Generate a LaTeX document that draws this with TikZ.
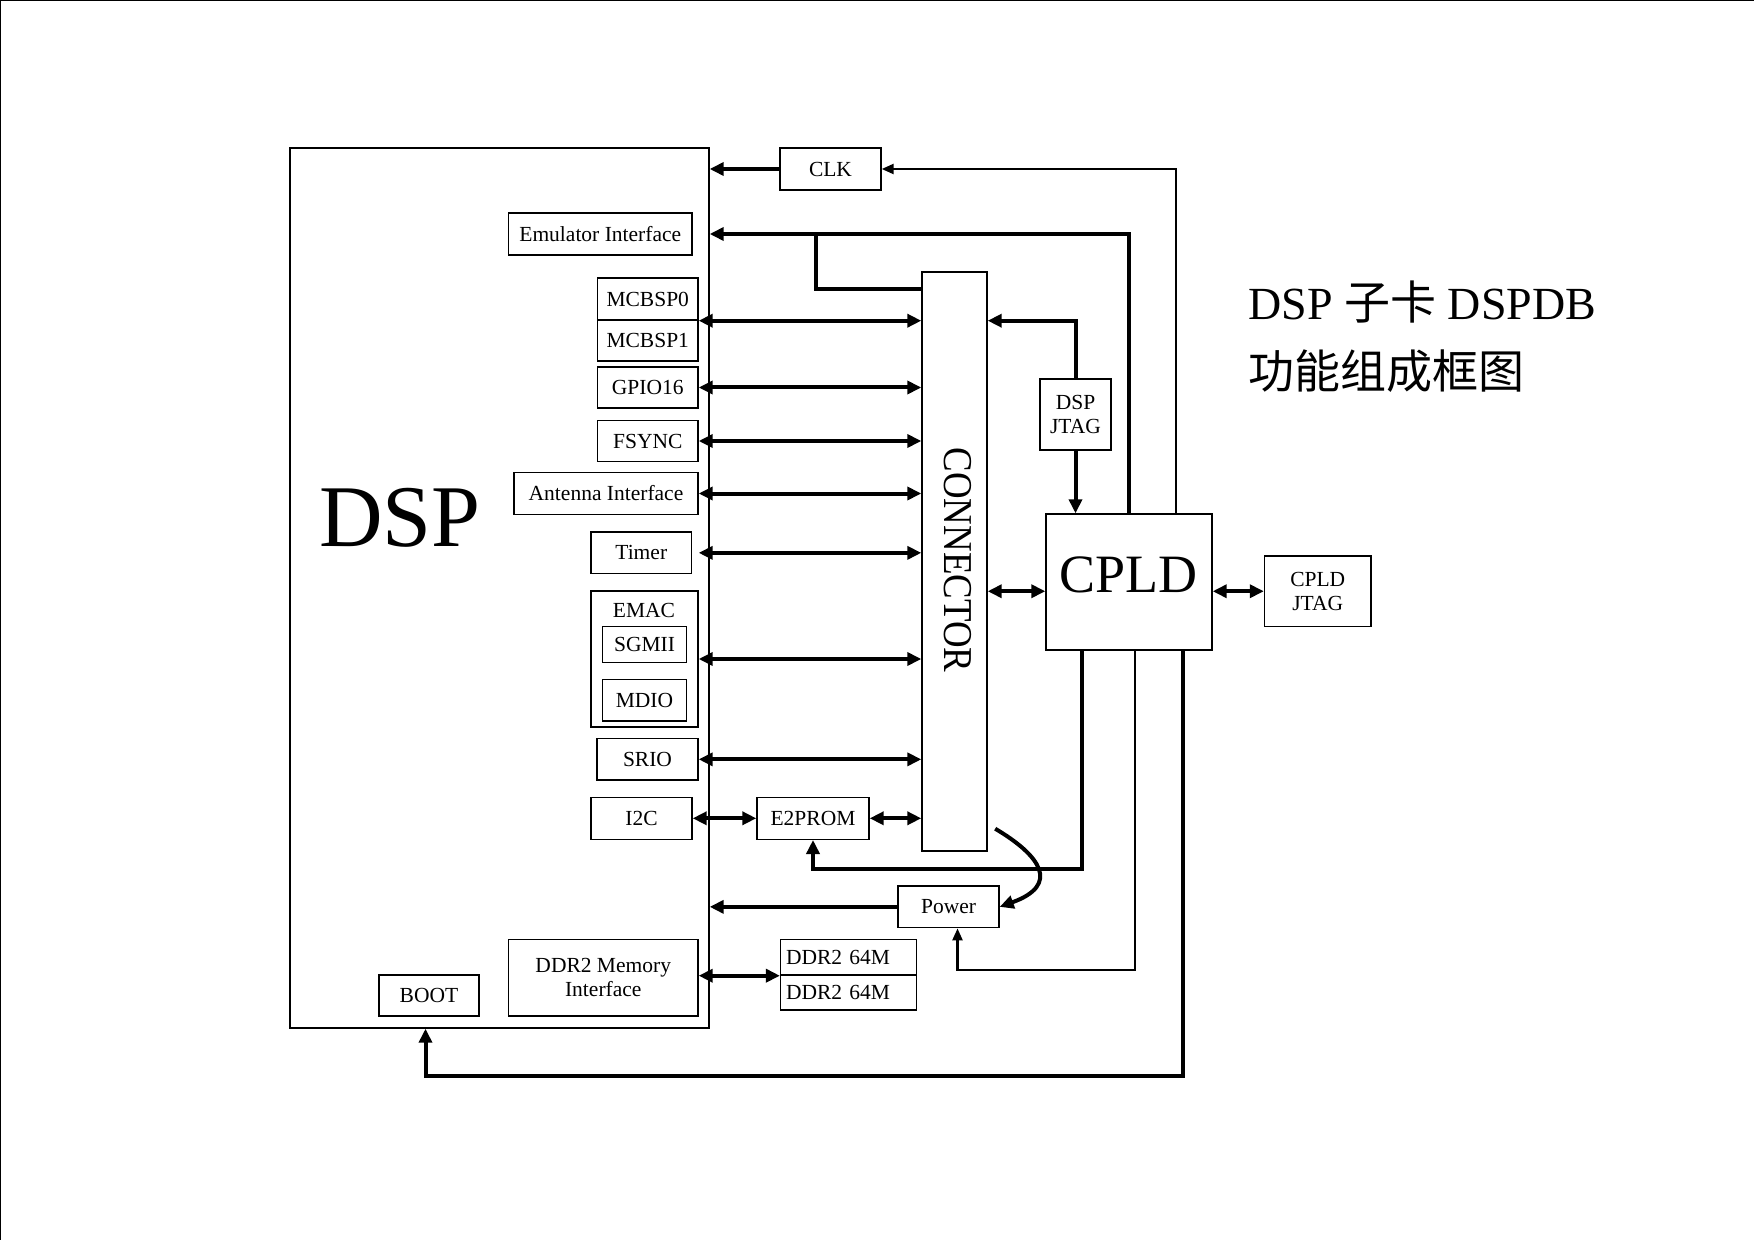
\documentclass[tikz,border=0pt]{standalone}
\usepackage{fontspec}
\setmainfont{Liberation Serif}
\newfontfamily\cjk{Noto Sans CJK SC}
\usetikzlibrary{arrows.meta}
\newcommand\fsmall{\fontsize{10.75pt}{12pt}\selectfont}
\tikzset{
  box/.style={draw, line width=0.7pt, inner sep=0pt, font=\fsmall, align=center},
  thk/.style={line width=2pt},
  thn/.style={line width=1.2pt},
  bigtip/.tip={Triangle[length=7pt,width=6.5pt]},
  smalltip/.tip={Triangle[length=6pt,width=5pt]},
  lbl/.style={inner sep=0pt}
}
\begin{document}
\begin{tikzpicture}[x=0.5pt,y=-0.5pt]
\useasboundingbox (0,0) rectangle (1754,1240);
\draw[line width=1pt] (0,1240) -- (0,0) -- (1754,0);

% DSP
\node[box, minimum width=209.5pt, minimum height=440pt] (dsp) at (499.5,588) {};
\node[lbl, font=\fontsize{44pt}{48pt}\selectfont] (dsplbl) at (400,518) {DSP};

\node[box, minimum width=50.5pt, minimum height=21pt] (clk) at (830.5,169) {CLK};
\node[box, minimum width=91.75pt, minimum height=21pt] (emu) at (600.25,234) {Emulator Interface};

% connector
\node[box, minimum width=32.5pt, minimum height=289.5pt] (conn) at (954.5,561.5) {};
\node[lbl, rotate=-90, font=\fontsize{20.5pt}{22pt}\selectfont] (connlbl) at (958,560) {\scalebox{0.9}[1]{CONNECTOR}};

% interfaces
\node[box, minimum width=50.25pt, minimum height=21pt] (mcbsp0) at (647.75,299) {MCBSP0};
\node[box, minimum width=50.25pt, minimum height=20.5pt] (mcbsp1) at (647.75,340.5) {MCBSP1};
\node[box, minimum width=50.25pt, minimum height=20.5pt] (gpio) at (647.75,387.5) {GPIO16};
\node[box, minimum width=50.25pt, minimum height=20.5pt] (fsync) at (647.75,441) {FSYNC};
\node[box, minimum width=92pt, minimum height=20.8pt] (ant) at (606,493.5) {Antenna Interface};
\node[box, minimum width=50.25pt, minimum height=20.85pt] (timer) at (641.25,552.85) {Timer};
\node[box, minimum width=53.5pt, minimum height=68pt] (emac) at (644.5,659) {};
\node[lbl, font=\fsmall] (emaclbl) at (644,610.7) {EMAC};
\node[box, minimum width=41.9pt, minimum height=17.8pt] (sgmii) at (644.5,644.5) {SGMII};
\node[box, minimum width=41.9pt, minimum height=20.65pt] (mdio) at (644.5,700.35) {MDIO};
\node[box, minimum width=50.5pt, minimum height=20.65pt] (srio) at (647.5,759.35) {SRIO};
\node[box, minimum width=50.5pt, minimum height=21pt] (i2c) at (641.5,818.3) {I2C};
\node[box, minimum width=56pt, minimum height=21pt] (e2p) at (813,818.3) {E2PROM};
\node[box, minimum width=50.5pt, minimum height=20.85pt] (power) at (948.5,906.85) {Power};
\node[box, minimum width=94.75pt, minimum height=38.35pt] (ddrif) at (603.25,977.65) {DDR2 Memory\\Interface};
\node[box, minimum width=50pt, minimum height=20.5pt] (boot) at (429,995.5) {BOOT};
\node[box, minimum width=67.9pt, minimum height=17.85pt, inner xsep=2.7pt, text width=62.5pt, align=left] (ddra) at (848.5,957.15) {DDR2 64M};
\node[box, minimum width=67.9pt, minimum height=17.5pt, inner xsep=2.7pt, text width=62.5pt, align=left] (ddrb) at (848.5,992.5) {DDR2 64M};

% right side
\node[box, minimum width=35.5pt, minimum height=35.5pt] (djtag) at (1075.5,414.5) {DSP\\JTAG};
\node[box, minimum width=83pt, minimum height=68pt] (cpld) at (1129,582) {};
\node[lbl, font=\fontsize{27pt}{30pt}\selectfont] (cpldlbl) at (1128,575) {CPLD};
\node[box, minimum width=53.25pt, minimum height=35.25pt] (cjtag) at (1317.75,591.25) {CPLD\\JTAG};

% title
\node[lbl, anchor=base west, font=\fontsize{23pt}{26pt}\selectfont] (title1) at (1248,320) {DSP {\cjk 子卡} DSPDB};
\node[lbl, anchor=base west, font=\fontsize{23pt}{26pt}\selectfont\cjk] (title2) at (1248,389) {功能组成框图};

% connectors
\draw[thk,-bigtip] (clk.west) -- (clk.west -| dsp.east);
\draw[thn,-smalltip] ([xshift=-18.25pt]cpld.north east) |- (clk.east);
\draw[thk,-bigtip] (cpld.north) |- (emu.east -| dsp.east);
\coordinate (ebr) at (815.6,234);
\draw[thk] (ebr) |- ([yshift=-9pt]conn.north west);
\draw[thk,-bigtip] (djtag.north) |- (conn.east |- mcbsp0.south);
\draw[thk,-bigtip] (djtag.south) -- (djtag.south |- cpld.north);
\draw[thk,bigtip-bigtip] (conn.east |- cjtag.west) -- (cpld.west |- cjtag.west);
\draw[thk,bigtip-bigtip] (cpld.east |- cjtag.west) -- (cjtag.west);

\draw[thk,bigtip-bigtip] (mcbsp0.south east) -- (mcbsp0.south east -| conn.west);
\draw[thk,bigtip-bigtip] (gpio.east) -- (gpio.east -| conn.west);
\draw[thk,bigtip-bigtip] (fsync.east) -- (fsync.east -| conn.west);
\draw[thk,bigtip-bigtip] (ant.east) -- (ant.east -| conn.west);
\draw[thk,bigtip-bigtip] (gpio.east |- timer.east) -- (timer.east -| conn.west);
\draw[thk,bigtip-bigtip] (emac.east) -- (emac.east -| conn.west);
\draw[thk,bigtip-bigtip] (srio.east) -- (srio.east -| conn.west);
\draw[thk,bigtip-bigtip] (i2c.east) -- (e2p.west);
\draw[thk,bigtip-bigtip] (e2p.east) -- (e2p.east -| conn.west);

\draw[thk,-bigtip] ([xshift=18.5pt]cpld.south west) |- ([yshift=-14.5pt]e2p.south) -- (e2p.south);
\draw[thn,-smalltip] ([xshift=-38.75pt]cpld.south east) |- ([xshift=4.5pt,yshift=-20.65pt]power.south) -- ([xshift=4.5pt]power.south);
\draw[thk,-bigtip] (power.west) -- (power.west -| dsp.east);
\draw[thk,-bigtip] ([xshift=3.75pt,yshift=11.5pt]conn.south east) .. controls +(45.5,27) and +(61,-22) .. (power.east);

\path (boot.south |- dsp.south) ++(-3.5,0) coordinate (bootin);
\draw[thk,-bigtip] ([xshift=-15pt]cpld.south east) |- ([yshift=-23.5pt]bootin) -- (bootin);

\draw[thk,bigtip-bigtip] (ddra.south west -| ddrif.east) -- (ddra.south west);
\end{tikzpicture}
\end{document}
